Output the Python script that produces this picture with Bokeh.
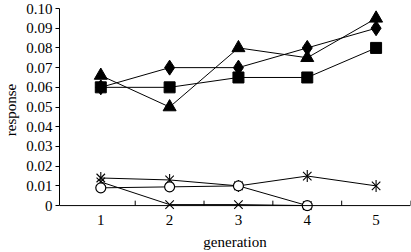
import math
from bokeh.plotting import figure
from bokeh.models import Range1d, FixedTicker, Span
from bokeh.embed import file_html
from bokeh.resources import INLINE

generation = [1, 2, 3, 4, 5]
triangle_vals = [0.066, 0.050, 0.080, 0.075, 0.095]
diamond_vals = [0.060, 0.070, 0.070, 0.080, 0.090]
square_vals = [0.060, 0.060, 0.065, 0.065, 0.080]
asterisk_vals = [0.014, 0.013, 0.010, 0.015, 0.010]
circle_gen = [1, 2, 3, 4]
circle_vals = [0.009, 0.0095, 0.010, 0.0]
x_gen = [1, 2, 3, 4]
x_vals = [0.012, 0.0005, 0.0005, 0.0]
y_ticks = [0, 0.01, 0.02, 0.03, 0.04, 0.05, 0.06, 0.07, 0.08, 0.09, 0.10]
y_labels = ["0", "0.01", "0.02", "0.03", "0.04", "0.05", "0.06", "0.07", "0.08", "0.09", "0.10"]
between_x = [1.5, 2.5, 3.5, 4.5, 5.5]

FONT = "Liberation Serif"
FS = "15px"

p = figure(width=411, height=252, output_backend="svg", toolbar_location=None,
           x_range=Range1d(0.40, 5.5), y_range=Range1d(-0.003, 0.1),
           min_border_left=2, min_border_right=1, min_border_top=8, min_border_bottom=0)
p.outline_line_color = None
p.xgrid.visible = False
p.ygrid.visible = False

# bottom axis: labels only (the line at y=0 is drawn separately)
p.xaxis.ticker = FixedTicker(ticks=generation, minor_ticks=[])
p.xaxis.axis_line_color = None
p.xaxis.major_tick_in = 0
p.xaxis.major_tick_out = 0
p.xaxis.minor_tick_in = 0
p.xaxis.minor_tick_out = 0
p.xaxis.axis_label = "generation"
p.xaxis.major_label_standoff = 3
p.xaxis.axis_label_standoff = 6

# axis line at zero and inner ticks between categories
p.add_layout(Span(location=0, dimension="width", line_color="black", line_width=1))
p.segment(x0=between_x, y0=[0] * len(between_x), x1=between_x, y1=[0.0025] * len(between_x),
          line_color="black", line_width=1)

# y axis
p.yaxis.ticker = FixedTicker(ticks=y_ticks, minor_ticks=[])
p.yaxis.bounds = (0, 0.1)
p.yaxis.major_label_overrides = {t: l for t, l in zip(y_ticks, y_labels)}
p.yaxis.major_tick_in = 0
p.yaxis.major_tick_out = 4
p.yaxis.minor_tick_in = 0
p.yaxis.minor_tick_out = 0
p.yaxis.axis_label = "response"
p.yaxis.major_label_standoff = 3
p.yaxis.axis_label_standoff = 4
p.yaxis.axis_line_color = "black"
p.yaxis.major_tick_line_color = "black"

for ax in (p.xaxis[0], p.yaxis[0]):
    ax.major_label_text_font = FONT
    ax.major_label_text_font_size = FS
    ax.major_label_text_color = "black"
    ax.axis_label_text_font = FONT
    ax.axis_label_text_font_size = FS
    ax.axis_label_text_font_style = "normal"
    ax.axis_label_text_color = "black"

# lines
for xs, ys in [(generation, triangle_vals), (generation, diamond_vals), (generation, square_vals),
               (generation, asterisk_vals), (circle_gen, circle_vals), (x_gen, x_vals)]:
    p.line(xs, ys, line_color="black", line_width=1)

p.scatter(x_gen, x_vals, marker="x", size=12, line_color="black", line_width=1.1)
# six-armed asterisk: an x with a vertical stroke
p.scatter(generation, asterisk_vals, marker="x", size=12, line_color="black", line_width=1.1)
p.scatter(generation, asterisk_vals, marker="dash", size=12, angle=math.pi / 2,
          line_color="black", line_width=1.1)
p.scatter(circle_gen, circle_vals, marker="circle", size=10, line_color="black", fill_color="white", line_width=1.2)
p.scatter(generation, square_vals, marker="square", size=11, color="black")
p.scatter(generation, diamond_vals, marker="diamond", size=15, color="black")
p.scatter(generation, triangle_vals, marker="triangle", size=13, color="black")

open("out.html", "w").write(file_html(p, INLINE))
